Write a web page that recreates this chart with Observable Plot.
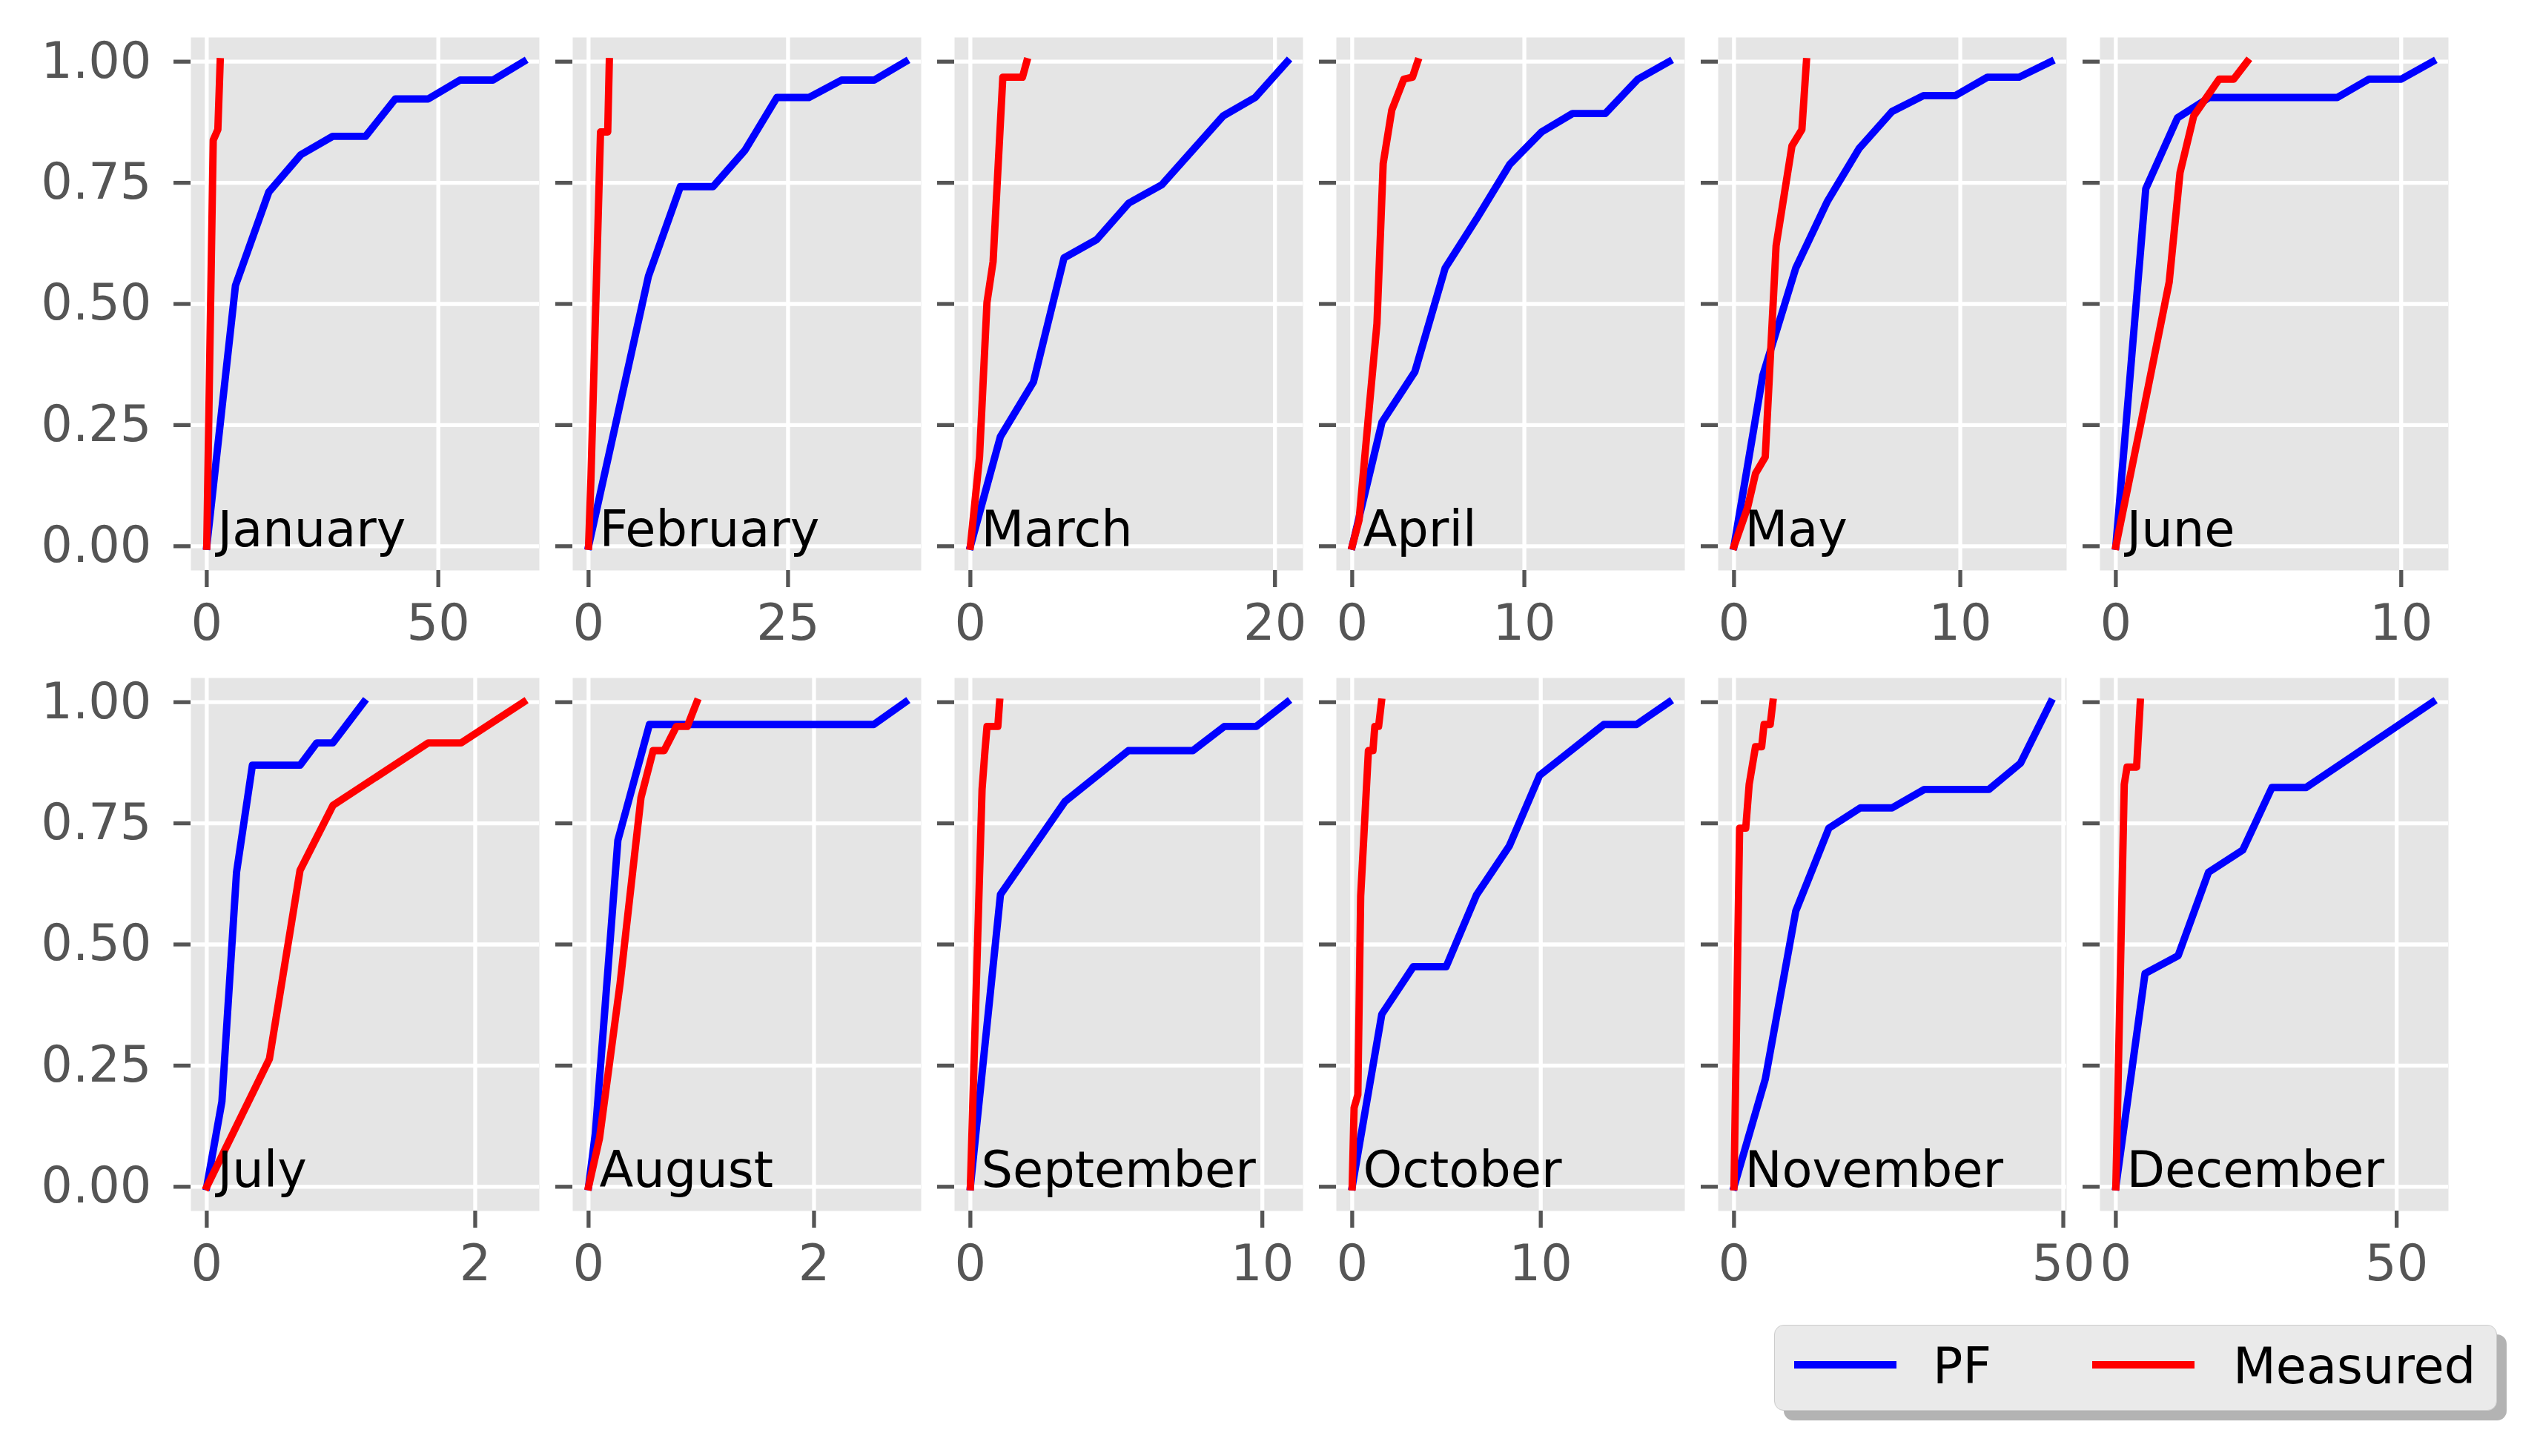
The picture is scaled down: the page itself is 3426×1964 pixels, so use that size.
<!DOCTYPE html>
<html>
<head>
<meta charset="utf-8">
<script src="https://cdn.jsdelivr.net/npm/d3@7"></script>
<script src="https://cdn.jsdelivr.net/npm/@observablehq/plot@0.6"></script>
<style>
  body { margin: 0; background: #fff; }
  #chart { position: relative; width: 3426px; height: 1964px; font-family: "DejaVu Sans", sans-serif; }
  #chart svg { position: absolute; overflow: visible; background: transparent; max-width: none; }
  #legend-shadow { position: absolute; background: #b3b3b3; border-radius: 13px; }
  #legend { position: absolute; background: #eaeaea; border: 1.5px solid #cccccc; border-radius: 13px; box-sizing: border-box; }
  .sw { position: absolute; height: 10px; }
  .lt { position: absolute; font-family: "DejaVu Sans", sans-serif; font-size: 67px; color: #000; line-height: 1; white-space: nowrap; }
</style>
</head>
<body>
<div id="chart"></div>
<script>
const months = ["January","February","March","April","May","June",
                "July","August","September","October","November","December"];
const xTicks = [[0,50],[0,25],[0,20],[0,10],[0,10],[0,10],[0,2],[0,2],[0,10],[0,10],[0,50],[0,50]];
const yTicks = [0, 0.25, 0.5, 0.75, 1];
const seriesNames = ["PF", "Measured"];
const seriesColors = ["#0000ff", "#ff0000"];

const pfX = [
  [0,6.2,13.4,20.3,27.2,34.3,40.7,47.8,54.7,61.8,68.4],
  [0,7.5,11.5,15.6,19.6,23.6,27.6,31.7,35.8,39.7],
  [0,1.97,4.14,6.15,8.3,10.4,12.57,16.6,18.7,20.8],
  [0,1.73,3.64,5.4,7.3,9.15,11.0,12.8,14.7,16.6,18.4],
  [0,1.27,2.73,4.13,5.53,6.98,8.38,9.78,11.2,12.6,14.0],
  [0,1.05,2.16,3.27,7.76,8.87,10.0,11.1],
  [0,0.113,0.222,0.34,0.695,0.82,0.94,1.17],
  [0,0.06,0.26,0.54,2.53,2.81],
  [0,1.03,3.24,5.41,7.62,8.7,9.79,10.85],
  [0,1.57,3.24,4.98,6.59,8.33,9.94,13.35,15.08,16.8],
  [0,4.75,9.38,14.4,19.2,24.0,28.9,38.7,43.5,48.1],
  [0,5.2,11.1,16.5,22.6,27.8,33.9,56.4]
];
const pfY = [
  [0,0.538,0.731,0.808,0.846,0.846,0.923,0.923,0.962,0.962,1],
  [0,0.557,0.742,0.742,0.817,0.926,0.926,0.962,0.962,1],
  [0,0.226,0.339,0.595,0.633,0.708,0.746,0.888,0.926,1],
  [0,0.256,0.36,0.574,0.68,0.788,0.855,0.893,0.893,0.964,1],
  [0,0.352,0.574,0.712,0.821,0.897,0.93,0.93,0.968,0.968,1],
  [0,0.738,0.884,0.926,0.926,0.964,0.964,1],
  [0,0.176,0.649,0.87,0.87,0.916,0.916,1],
  [0,0.11,0.715,0.954,0.954,1],
  [0,0.603,0.795,0.9,0.9,0.95,0.95,1],
  [0,0.356,0.454,0.454,0.602,0.703,0.849,0.954,0.954,1],
  [0,0.222,0.569,0.74,0.782,0.782,0.82,0.82,0.874,1],
  [0,0.44,0.477,0.649,0.695,0.824,0.824,1]
];
const measX = [
  [0,1.4,2.4,2.9],
  [0,0.3,1.5,2.4,2.6],
  [0,0.6,1.09,1.49,2.13,3.42,3.7],
  [0,0.4,1.0,1.44,1.8,2.3,3.0,3.5,3.8],
  [0,0.6,0.95,1.38,1.86,2.56,3.0,3.2],
  [0,0.9,1.87,2.25,2.73,3.62,4.13,4.6],
  [0,0.467,0.695,0.94,1.65,1.895,2.36],
  [0,0.097,0.28,0.465,0.573,0.67,0.78,0.876,0.96],
  [0,0.4,0.5,0.57,0.94,1.0],
  [0,0.1,0.3,0.45,0.86,1.1,1.2,1.4,1.55],
  [0,0.85,1.78,2.3,3.26,4.2,4.56,5.5,5.9],
  [0,0.2,1.5,2.0,3.7,4.35]
];
const measY = [
  [0,0.838,0.86,1],
  [0,0.14,0.855,0.855,1],
  [0,0.184,0.503,0.587,0.968,0.968,1],
  [0,0.054,0.29,0.46,0.79,0.9,0.964,0.968,1],
  [0,0.08,0.15,0.184,0.62,0.826,0.86,1],
  [0,0.26,0.545,0.771,0.888,0.964,0.964,1],
  [0,0.264,0.653,0.787,0.916,0.916,1],
  [0,0.1,0.42,0.803,0.9,0.9,0.95,0.95,1],
  [0,0.82,0.9,0.95,0.95,1],
  [0,0.163,0.19,0.6,0.9,0.9,0.95,0.95,1],
  [0,0.74,0.74,0.83,0.908,0.908,0.954,0.954,1],
  [0,0.1,0.83,0.866,0.866,1]
];

const chart = document.getElementById("chart");
const PW = 470, PH = 719;
const colLeft = c => 257 + c * 515;
const rowTop = [50, 914];
const fmt2 = d3.format(".2f");
const fmtX = d => String(d);

months.forEach((m, i) => {
  const r = Math.floor(i / 6), c = i % 6;
  const rows = [];
  pfX[i].forEach((x, j) => rows.push({series: seriesNames[0], x, y: pfY[i][j]}));
  measX[i].forEach((x, j) => rows.push({series: seriesNames[1], x, y: measY[i][j]}));
  const xmax = d3.max(rows, d => d.x);
  const ml = c === 0 ? 257 : 60, mt = 10, mr = 60, mb = 130;
  const svg = Plot.plot({
    width: ml + PW + mr,
    height: mt + PH + mb,
    marginLeft: ml, marginRight: mr, marginTop: mt, marginBottom: mb,
    style: {fontFamily: "DejaVu Sans", fontSize: "67px", color: "#555555", background: "transparent", overflow: "visible"},
    x: {domain: [-0.05 * xmax, 1.05 * xmax], label: null},
    y: {domain: [-0.05, 1.05], label: null},
    color: {domain: seriesNames, range: seriesColors},
    marks: [
      Plot.frame({fill: "#e5e5e5", stroke: null}),
      Plot.gridX({ticks: xTicks[i], stroke: "white", strokeOpacity: 1, strokeWidth: 5.3}),
      Plot.gridY({ticks: yTicks, stroke: "white", strokeOpacity: 1, strokeWidth: 5.3}),
      Plot.axisX({ticks: xTicks[i], tickSize: 23, tickPadding: 23, strokeWidth: 5.3, label: null, fontSize: 67, tickFormat: fmtX}),
      Plot.axisY({ticks: yTicks, tickSize: 23, tickPadding: 30, strokeWidth: 5.3, label: null, fontSize: 67,
                  tickFormat: c === 0 ? fmt2 : () => ""}),
      Plot.line(rows, {x: "x", y: "y", z: "series", stroke: "series", strokeWidth: 9.9, strokeLinejoin: "round", strokeLinecap: "square"}),
      Plot.text([m], {text: d => d, frameAnchor: "bottom-left", textAnchor: "start", lineAnchor: "bottom",
                      dx: 36, dy: -32.7, fill: "black", fontSize: 67})
    ]
  });
  svg.style.left = (colLeft(c) - ml) + "px";
  svg.style.top = (rowTop[r] - mt) + "px";
  chart.appendChild(svg);
});

// Legend (below the panels)
const lg = {left: 2393, top: 1787, width: 975, height: 116};
const sh = document.createElement("div");
sh.id = "legend-shadow";
Object.assign(sh.style, {left: (lg.left + 13) + "px", top: (lg.top + 13) + "px", width: lg.width + "px", height: lg.height + "px"});
chart.appendChild(sh);
const box = document.createElement("div");
box.id = "legend";
Object.assign(box.style, {left: lg.left + "px", top: lg.top + "px", width: lg.width + "px", height: lg.height + "px"});
chart.appendChild(box);
const items = [{x: 26, tx: 213}, {x: 428, tx: 618}];
seriesNames.forEach((name, k) => {
  const s = document.createElement("div");
  s.className = "sw";
  Object.assign(s.style, {left: items[k].x + "px", top: (53 - 5) + "px", width: "138px", background: seriesColors[k]});
  box.appendChild(s);
  const t = document.createElement("div");
  t.className = "lt";
  t.textContent = name;
  Object.assign(t.style, {left: items[k].tx + "px", top: "22px"});
  box.appendChild(t);
});
</script>
</body>
</html>
